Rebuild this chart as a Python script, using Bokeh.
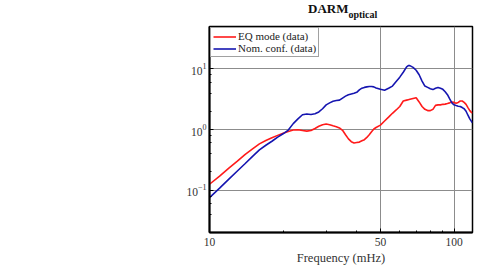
from bokeh.plotting import figure
from bokeh.layouts import column
from bokeh.models import (Range1d, FixedTicker, LogTicker, PrintfTickFormatter,
                          Legend, LegendItem, Div)
from bokeh.embed import file_html
from bokeh.resources import INLINE

freq = [10, 11, 12, 13, 14, 15, 16, 17, 18, 19, 20, 21, 22, 23, 24, 25, 26, 27, 28, 29,
        30, 31, 32, 33, 34, 35, 36, 37, 38, 39, 40, 41, 42, 43, 44, 45, 46, 47, 48,
        50, 52, 54, 56, 58, 60, 62, 64, 65, 66, 68, 70, 72, 74, 76, 78, 80, 82, 84, 86,
        88, 90, 92, 94, 96, 98, 100, 102, 104, 106, 108, 110, 112, 114, 116, 118, 119]

eq_mode = [0.125, 0.17, 0.23, 0.30, 0.39, 0.48, 0.58, 0.66, 0.73, 0.80, 0.87, 0.93, 0.98, 0.99,
           0.96, 0.94, 0.96, 1.04, 1.13, 1.20, 1.23, 1.20, 1.15, 1.11, 1.06, 0.97, 0.82, 0.70,
           0.63, 0.60, 0.61, 0.62, 0.65, 0.68, 0.74, 0.82, 0.92, 1.02, 1.08,
           1.18, 1.38, 1.60, 1.85, 2.10, 2.40, 2.95, 3.05, 3.10, 3.15, 3.25, 3.35, 2.85, 2.40,
           2.15, 2.05, 2.05, 2.15, 2.50, 2.55, 2.55, 2.60, 2.62, 2.68, 2.75, 2.83, 2.80, 2.72,
           2.80, 2.95, 2.95, 2.80, 2.60, 2.30, 2.05, 1.90, 1.87]

nom_conf = [0.075, 0.108, 0.152, 0.207, 0.275, 0.36, 0.46, 0.55, 0.64, 0.75, 0.85, 0.98, 1.25,
            1.50, 1.75, 1.80, 1.77, 1.82, 1.95, 2.20, 2.55, 2.75, 2.92, 3.00, 3.05, 3.30, 3.55,
            3.75, 3.85, 3.95, 4.10, 4.50, 4.80, 4.95, 5.05, 5.12, 5.12, 5.05, 4.85,
            4.60, 4.45, 4.80, 5.20, 6.20, 7.30, 8.80, 10.8, 11.3, 11.3, 10.6, 9.5, 8.0, 6.3,
            5.2, 4.95, 4.70, 4.55, 4.80, 4.95, 4.80, 4.60, 4.20, 3.75, 3.20, 2.75, 2.55, 2.48,
            2.42, 2.40, 2.30, 2.20, 2.00, 1.72, 1.50, 1.35, 1.30]

x_ticks = [10, 50, 100]
x_minor = [20, 30, 40, 60, 70, 80, 90]
series_names = ["EQ mode (data)", "Nom. conf. (data)"]
title_main = "DARM"
title_sub = "optical"
x_label = "Frequency (mHz)"

FONT = "Liberation Serif"

title_div = Div(
    text=('<div style="margin:2px 0 0 308px; font-family:\'Liberation Serif\'; '
          'font-weight:bold; font-size:13px; line-height:13px; color:#111111; '
          'white-space:nowrap;">' + title_main +
          '<span style="position:relative; top:5px; font-size:10px;">' + title_sub +
          '</span></div>'),
    width=477, height=20, margin=(0, 0, 0, 0))

p = figure(width=477, height=253, x_axis_type="log", y_axis_type="log",
           x_range=Range1d(10, 119), y_range=Range1d(0.02, 50),
           output_backend="svg", toolbar_location=None,
           min_border_left=209, min_border_right=5, min_border_top=6,
           min_border_bottom=41, margin=(0, 0, 0, 0))
p.title.visible = False

p.background_fill_color = "white"
p.outline_line_color = "black"
p.outline_line_width = 1.5

r1 = p.line(freq, eq_mode, line_color="#ff1a1a", line_width=1.6)
r2 = p.line(freq, nom_conf, line_color="#1515b0", line_width=1.6)

# axes
p.xaxis.ticker = FixedTicker(ticks=x_ticks, minor_ticks=x_minor)
p.xaxis.formatter = PrintfTickFormatter(format="%d")
p.yaxis.ticker = LogTicker()
for ax in (p.xaxis, p.yaxis):
    ax.axis_line_color = "black"
    ax.axis_line_width = 2
    ax.major_tick_in = 4
    ax.major_tick_out = 0
    ax.minor_tick_in = 2
    ax.minor_tick_out = 0
    ax.major_tick_line_color = "black"
    ax.minor_tick_line_color = "black"
    ax.major_label_text_font = FONT
    ax.major_label_text_font_size = "11.5px"
    ax.major_label_text_color = "#333333"
p.yaxis.major_label_standoff = 3
p.xaxis.major_label_standoff = 5
p.xaxis.axis_label = x_label
p.xaxis.axis_label_text_font = FONT
p.xaxis.axis_label_text_font_size = "12.5px"
p.xaxis.axis_label_text_font_style = "normal"
p.xaxis.axis_label_text_color = "#333333"
p.xaxis.axis_label_standoff = 2

p.xgrid.ticker = FixedTicker(ticks=x_ticks)
p.xgrid.grid_line_color = "#8c8c8c"
p.ygrid.grid_line_color = "#8c8c8c"
p.xgrid.grid_line_width = 1
p.ygrid.grid_line_width = 1

legend = Legend(items=[LegendItem(label=series_names[0], renderers=[r1]),
                       LegendItem(label=series_names[1], renderers=[r2])],
                location="top_left", margin=1, padding=2, spacing=0,
                glyph_width=23, glyph_height=11, label_height=11, label_standoff=2,
                label_text_font=FONT, label_text_font_size="11px",
                label_text_line_height=1.0,
                label_text_color="#222222",
                border_line_color="#444444", border_line_width=1,
                background_fill_color="white", background_fill_alpha=1.0)
p.add_layout(legend)

layout = column(title_div, p, spacing=0, margin=(0, 0, 0, 0))

open("out.html", "w").write(file_html(layout, INLINE))
